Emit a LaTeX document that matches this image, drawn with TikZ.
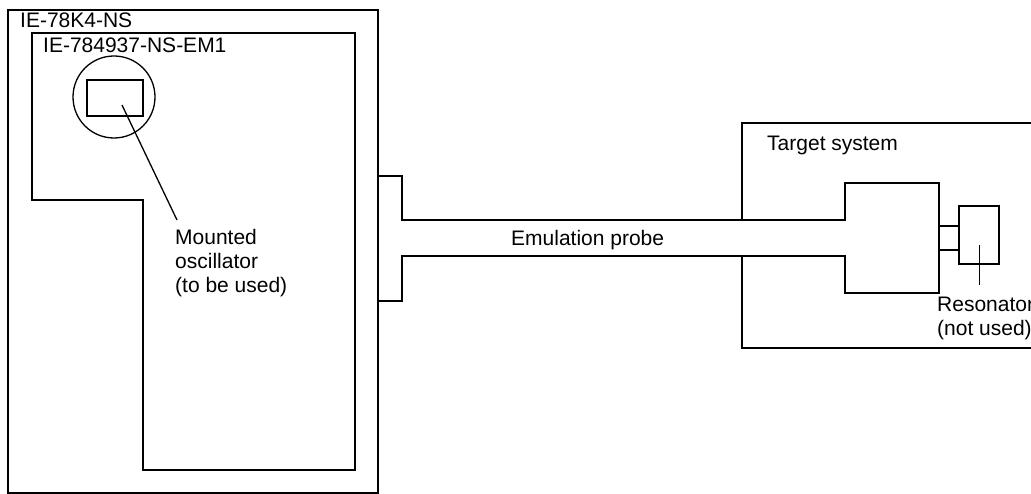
\documentclass[tikz,border=0pt]{standalone}
\usepackage{fontspec}
\setmainfont{Liberation Sans}
\usetikzlibrary{positioning}

\begin{document}
\begin{tikzpicture}[
    x=1pt, y=-1pt,
    outline/.style={draw, line width=1.3pt},
    thinline/.style={draw, line width=0.7pt},
    lbl/.style={font=\fontsize{21}{24}\selectfont, inner sep=0pt, anchor=base west},
    multilbl/.style={lbl, align=left, anchor=north west}
]
    \useasboundingbox (0,0) rectangle (1031,494);

    % Emulator IE-78K4-NS
    \draw[outline] (8,10) rectangle (378,493);
    \node[lbl] (emulator) at (20,28) {IE-78K4-NS};

    % Emulation board
    \draw[outline] (32,33) -- (355,33) -- (355,470) -- (143,470) -- (143,200) -- (32,200) -- cycle;
    \node[lbl] (emboard) at (43,53) {IE-784937-NS-EM1};

    % Mounted oscillator
    \node[outline, circle, minimum size=82pt, inner sep=0pt] (osccircle) at (114,97) {};
    \node[outline, rectangle, minimum width=56pt, minimum height=36pt, inner sep=0pt] (osc) at (115,98) {};
    \node[multilbl] (osclabel) at (175,229) {Mounted\\oscillator\\(to be used)};
    \coordinate (oscpin) at (122,105);
    \coordinate (oscfoot) at (177,220);
    \draw[outline] (oscpin) -- (oscfoot);

    % Emulation probe
    \draw[outline] (378,176) -- (402,176) -- (402,220) -- (845,220) -- (845,183) -- (939,183)
        -- (939,293) -- (845,293) -- (845,256) -- (402,256) -- (402,301) -- (378,301);
    \node[lbl] (probe) at (511,246) {Emulation probe};

    % Target system
    \draw[outline] (742,220) -- (742,123) -- (1040,123);
    \draw[outline] (742,256) -- (742,348) -- (1040,348);
    \node[lbl] (target) at (767,151) {Target system};

    % Resonator
    \node[outline, rectangle, minimum width=40pt, minimum height=58pt, inner sep=0pt] (resonator) at (979,235) {};
    \coordinate (pinA) at (939,226);
    \coordinate (pinB) at (939,250);
    \draw[outline] (pinA) -- (pinA -| resonator.west);
    \draw[outline] (pinB) -- (pinB -| resonator.west);
    \node[multilbl] (reslabel) at (937,297) {Resonator\\(not used)};
    \coordinate (resfoot) at (979,285);
    \draw[thinline] (resonator.center) ++(0,10) -- (resfoot);
\end{tikzpicture}
\end{document}
